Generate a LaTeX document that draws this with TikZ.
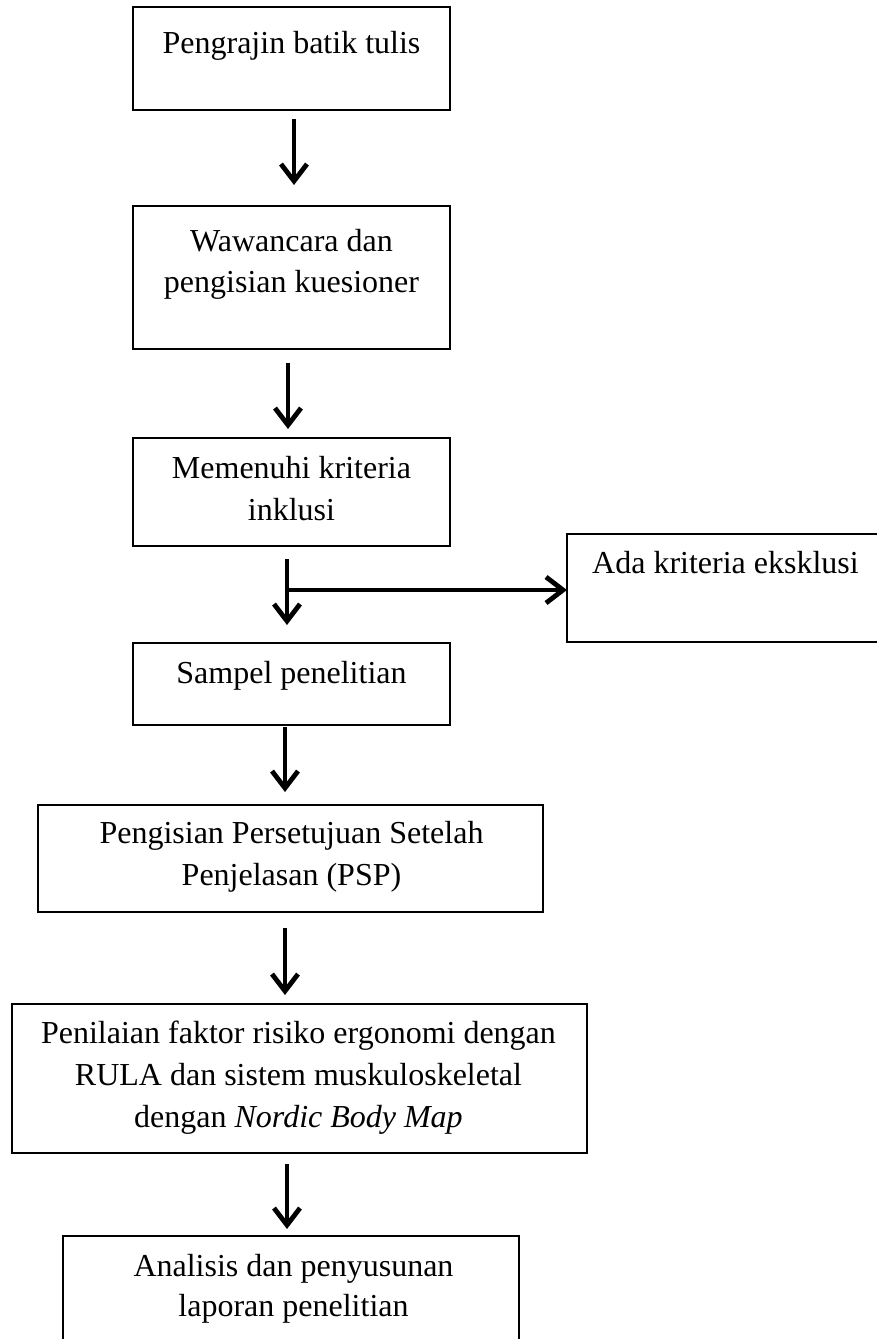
\documentclass[tikz,border=0pt]{standalone}
\usepackage{fontspec}
\setmainfont{Liberation Serif}
\usetikzlibrary{arrows.meta,calc}
\begin{document}
\begin{tikzpicture}[x=1pt,y=-1pt,
  box/.style={draw=black,line width=2.4pt,outer sep=0pt,inner sep=0pt},
  txt/.style={anchor=base,inner sep=0pt,font=\fontsize{32}{42}\selectfont},
  arr/.style={line width=4.8pt,-{Straight Barb[length=17pt,width=26pt]}},
  ln/.style={line width=4.8pt}]
\useasboundingbox (0,0) rectangle (876,1339);
% boxes
\node[box,minimum width=317pt,minimum height=103pt] (b1) at (291.5,58.5) {};
\node[box,minimum width=317pt,minimum height=143pt] (b2) at (291.5,277.5) {};
\node[box,minimum width=317pt,minimum height=108pt] (b3) at (291.5,492) {};
\node[box,minimum width=313pt,minimum height=108pt] (bx) at (723.5,588) {};
\node[box,minimum width=317pt,minimum height=82pt] (b5) at (291.5,684) {};
\node[box,minimum width=505pt,minimum height=107pt] (b6) at (290.5,858.5) {};
\node[box,minimum width=575pt,minimum height=149pt] (b7) at (299.5,1078.5) {};
\node[box,minimum width=456pt,minimum height=114pt] (b8) at (291,1293) {};
% texts
\node[txt] (t1) at (291.5,53) {Pengrajin batik tulis};
\node[txt] (t2a) at (291.5,251) {Wawancara dan};
\node[txt] (t2b) at (291.5,292) {pengisian kuesioner};
\node[txt] (t3a) at (291.5,478) {Memenuhi kriteria};
\node[txt] (t3b) at (291.5,520) {inklusi};
\node[txt] (tx) at (725.5,573) {Ada kriteria eksklusi};
\node[txt] (t5) at (291.5,683) {Sampel penelitian};
\node[txt] (t6a) at (291.5,843) {Pengisian Persetujuan Setelah};
\node[txt] (t6b) at (291.5,885) {Penjelasan (PSP)};
\node[txt] (t7a) at (298.5,1043) {Penilaian faktor risiko ergonomi dengan};
\node[txt] (t7b) at (298.5,1085) {RULA dan sistem muskuloskeletal};
\node[txt] (t7c) at (298.5,1127) {dengan \textit{Nordic Body Map}};
\node[txt] (t8a) at (293.5,1276) {Analisis dan penyusunan};
\node[txt] (t8b) at (293.5,1316) {laporan penelitian};
% connectors
\draw[arr] ($(b1.south)+(2.5,9)$) -- ($(b2.north)+(2.5,-21)$);
\draw[arr] ($(b2.south)+(-3.5,14)$) -- ($(b3.north)+(-3.5,-9)$);
\draw[arr] ($(b3.south)+(-4.5,13)$) -- ($(b5.north)+(-4.5,-18)$);
\coordinate (sp) at ($(b3.south)+(-4.5,44)$);
\draw[arr] (sp) -- (sp -| bx.west);
\draw[arr] ($(b5.south)+(-6.5,2)$) -- ($(b6.north)+(-5.5,-13)$);
\draw[arr] ($(b6.south)+(-5.5,16)$) -- ($(b7.north)+(-14.5,-9)$);
\draw[arr] ($(b7.south)+(-12.5,11)$) -- ($(b8.north)+(-4,-7)$);
\end{tikzpicture}
\end{document}
